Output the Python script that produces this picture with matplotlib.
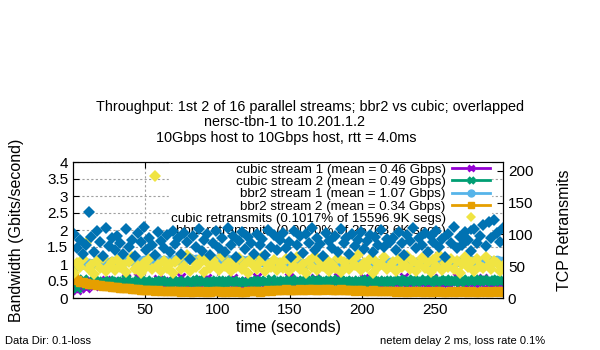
import numpy as np
import matplotlib
matplotlib.use("Agg")
import matplotlib.pyplot as plt
from matplotlib.ticker import FormatStrFormatter

plt.rcParams['font.family'] = ['Liberation Sans', 'DejaVu Sans']

# sample times (seconds), one value every 2 s
t = np.arange(1, 298, 2)

# bandwidth values in Gbit/s x 100
cubic_s1 = [35, 25, 30, 45, 28, 40, 50, 36, 44, 48, 38, 52, 42, 47, 40,
            45, 50, 42, 58, 44, 48, 40, 62, 46, 43, 50, 45, 41, 48, 55, 44, 47, 42, 49, 46,
            44, 50, 63, 46, 42, 48, 45, 52, 40, 47, 44, 60, 46, 43, 49, 45, 50, 42, 47, 44,
            58, 46, 41, 48, 45, 50, 43, 47, 62, 45, 44, 49, 42, 46, 51, 44,
            46, 43, 48, 61, 45, 42, 47, 50, 44, 46, 42, 49, 58, 45, 43, 47, 44, 50, 42, 46,
            63, 45, 48, 43, 46, 41, 49, 45, 47, 60, 44, 46, 42, 48, 45, 50, 43, 46, 44,
            47, 44, 50, 45, 62, 46, 43, 48, 45, 51, 44, 47, 42, 49, 59, 46, 44, 48, 45, 43,
            50, 46, 61, 44, 47, 42, 49, 46, 45, 48, 43, 58, 46, 44, 50, 45, 47, 43, 48]
cubic_s2 = [40, 30, 45, 55, 38, 50, 44, 52, 47, 41, 50, 46, 53, 45, 49,
            51, 44, 48, 55, 46, 50, 43, 52, 48, 45, 54, 47, 50, 44, 49, 53, 46, 51, 45, 50,
            48, 54, 45, 50, 47, 52, 44, 49, 55, 46, 51, 48, 43, 50, 53, 47, 45, 52, 49, 46,
            54, 48, 50, 44, 51, 47, 53, 45, 49, 52, 46, 50, 48, 55, 47, 51,
            49, 53, 46, 50, 55, 48, 52, 45, 51, 54, 47, 50, 56, 49, 46, 53, 51, 48, 55, 47,
            52, 50, 46, 54, 49, 51, 47, 53, 50, 48, 55, 46, 52, 49, 51, 47, 54, 50, 48,
            52, 49, 55, 51, 47, 54, 50, 57, 48, 53, 51, 56, 49, 52, 55, 48, 53, 50, 57, 51,
            49, 54, 52, 48, 56, 50, 53, 51, 55, 49, 52, 57, 50, 54, 51, 53, 56, 50, 52]
bbr2_s1 = [90, 95, 98, 100, 96, 102, 99, 104, 101, 105, 103, 107, 104, 108, 106,
           110, 108, 112, 109, 113, 110, 114, 111, 109, 113, 110, 112, 108, 111, 114, 110, 112, 109, 113, 111,
           114, 111, 116, 112, 115, 118, 113, 116, 112, 117, 114, 119, 115, 112, 116, 113, 115, 111,
           114, 112, 110, 113, 109, 112, 108, 111, 107, 110, 106, 109, 105, 108, 104, 107, 103, 106,
           102, 105, 101, 104, 100, 103, 99, 102, 100, 104, 101, 103, 99, 102, 100, 104, 101, 103,
           100, 105, 102, 104, 101, 106, 103, 105, 102, 104, 101, 103, 100, 104, 102, 105, 101, 103, 104, 102, 105,
           106, 103, 107, 104, 108, 105, 107, 104, 106, 108, 105, 107, 104, 109, 106, 108, 105, 107, 110, 106,
           108, 105, 109, 107, 110, 106, 108, 111, 107, 109, 106, 110, 108, 111, 107, 109, 112, 108, 110]
bbr2_s2 = [60, 52, 48, 46, 44, 42, 41, 40, 38, 37, 36, 35, 34, 33, 32,
           31, 30, 29, 28, 29, 27, 26, 27, 25, 24, 25, 23, 24, 22, 23, 22, 21, 22, 21, 20,
           21, 20, 19, 20, 21, 19, 18, 20, 21, 19, 20, 18, 19, 20, 21, 20, 19, 18, 20, 19,
           21, 20, 19, 18, 19, 20, 21, 22, 20, 19, 21, 22, 23, 22, 24, 23,
           25, 24, 26, 25, 24, 23, 25, 26, 25, 24, 26, 27, 25, 24, 26, 25, 27, 26, 25, 24,
           25, 26, 24, 25, 23, 24, 22, 23, 24, 22, 21, 22, 23, 21, 20, 21, 22, 20, 21,
           20, 19, 21, 20, 19, 18, 20, 19, 21, 20, 18, 19, 20, 19, 18, 20, 21, 19, 18, 19,
           20, 18, 19, 20, 21, 19, 18, 20, 19, 18, 19, 20, 19, 18, 20, 19, 21, 20, 19]

# retransmits per interval (right axis)
cubic_retr = [40, 55, 48, 62, 86, 45, 52, 38, 58, 47, 63, 42, 50, 56, 44,
              60, 48, 53, 41, 57, 64, 46, 51, 39, 55, 49, 61, 45, 192, 52, 43, 58, 47, 54, 40,
              56, 62, 45, 50, 67, 43, 58, 49, 53, 64, 41, 57, 47, 60, 52, 44, 66, 50,
              55, 42, 59, 48, 63, 46, 54, 40, 61, 51, 45, 57, 65, 43, 52, 48, 60, 44,
              55, 47, 62, 42, 58, 50, 64, 45, 53, 39, 59, 48, 66, 44, 56, 51, 61, 43, 54, 47,
              63, 41, 57, 50, 45, 60, 52, 67, 44, 55, 48, 62, 40, 58, 49, 53, 64, 46, 51,
              57, 43, 61, 49, 54, 66, 45, 59, 42, 52, 63, 47, 56, 41, 60, 50, 68, 44, 55, 48,
              62, 46, 58, 40, 53, 65, 49, 57, 43, 61, 51, 47, 64, 52, 45, 59, 55, 42, 50]
bbr2_retr = [100, 78, 92, 70, 84, 136, 96, 72, 105, 88, 66, 110, 82, 94, 75,
             98, 86, 70, 108, 80, 92, 66, 102, 88, 112, 76, 95, 84, 68, 104, 90, 78, 99, 72, 106,
             85, 95, 70, 103, 88, 62, 97, 80, 108, 74, 92, 100, 67, 86, 105, 79, 94, 72,
             110, 83, 98, 65, 90, 104, 77, 96, 87, 70, 101, 84, 93, 68, 107, 81, 99, 75,
             92, 102, 78, 88, 64, 106, 83, 97, 71, 100, 87, 110, 76, 94, 85, 66, 103, 90, 79, 98,
             73, 108, 86, 95, 69, 101, 82, 92, 104, 77, 89, 99, 72, 96, 84, 107, 80, 93, 88,
             95, 76, 104, 86, 68, 99, 90, 110, 78, 94, 83, 102, 72, 97, 88, 106, 80, 93, 65, 100,
             87, 112, 79, 96, 84, 104, 91, 74, 108, 86, 98, 115, 82, 120, 95, 122, 103, 88, 110]

labels = ["cubic stream 1 (mean = 0.46 Gbps)",
          "cubic stream 2 (mean = 0.49 Gbps)",
          "bbr2 stream 1 (mean = 1.07 Gbps)",
          "bbr2 stream 2 (mean = 0.34 Gbps)",
          "cubic retransmits (0.1017% of 15596.9K segs)",
          "bbr2 retransmits (0.0000% of 25708.6K segs)"]

fig = plt.figure(figsize=(6, 3.5), dpi=100)
ax = fig.add_axes([73/600, 1-298/350, 430/600, 136/350])
ax2 = ax.twinx()

h = []
h += ax.plot(t, np.array(cubic_s1)/100, "-x", color="#9400D3", lw=3, ms=6, mew=2, label=labels[0])
h += ax.plot(t, np.array(cubic_s2)/100, "-x", color="#009E73", lw=3, ms=6, mew=2.5, label=labels[1])
h += ax.plot(t, np.array(bbr2_s1)/100, "-o", color="#56B4E9", lw=3, ms=6, label=labels[2])
h += ax.plot(t, np.array(bbr2_s2)/100, "-s", color="#E69F00", lw=3, ms=6, label=labels[3])
h += ax2.plot(t, cubic_retr, "D", color="#F0E442", ms=6, mew=0, label=labels[4])
h += ax2.plot(t, bbr2_retr, "D", color="#0072B2", ms=6.5, mew=0, label=labels[5])

ax.set_xlim(0.3, 297)
ax.set_ylim(0, 4)
ax2.set_ylim(0, 214)
ax.set_xticks([50, 100, 150, 200, 250])
ax.set_yticks(np.arange(0, 4.01, 0.5))
ax2.set_yticks([0, 50, 100, 150, 200])
ax.yaxis.set_major_formatter(FormatStrFormatter('%g'))
ax.tick_params(direction="in", length=4, labelsize=11, top=True, right=False)
ax2.tick_params(direction="in", length=4, labelsize=11)
ax.grid(True, ls=(0, (2, 2)), color="#a0a0a0", lw=0.8)
ax.set_axisbelow(True)

ax.set_xlabel("time (seconds)", fontsize=11.5)
ax.set_ylabel("Bandwidth (Gbits/second)", fontsize=11.5)
ax2.set_ylabel("TCP Retransmits", fontsize=11.5)
ax.xaxis.set_label_coords(0.5, -0.16)
ax.yaxis.set_label_coords(-0.115, 0.5)
ax2.yaxis.set_label_coords(1.125, 0.5)

leg = ax.legend(h, labels, loc="upper right", bbox_to_anchor=(0.972, 1.0), markerfirst=False,
                numpoints=1, fontsize=9.6, frameon=True, framealpha=1, edgecolor="white",
                fancybox=False, borderpad=0.1, labelspacing=0.0, handlelength=2.8,
                handletextpad=0.5, borderaxespad=0)
for lh in leg.legend_handles:
    lh.set_linewidth(2)
    lh.set_markersize(5)

fig.text(310/600, 1-107/350, "Throughput: 1st 2 of 16 parallel streams; bbr2 vs cubic; overlapped",
         ha="center", va="center", fontsize=10.4)
fig.text(285/600, 1-122/350, "nersc-tbn-1 to 10.201.1.2", ha="center", va="center", fontsize=10.4)
fig.text(286/600, 1-138/350, "10Gbps host to 10Gbps host, rtt = 4.0ms", ha="center", va="center", fontsize=10.4)
fig.text(5/600, 1-341/350, "Data Dir: 0.1-loss", ha="left", va="center", fontsize=8)
fig.text(380/600, 1-341/350, "netem delay 2 ms, loss rate 0.1%", ha="left", va="center", fontsize=8)

fig.savefig("out.png", dpi=100)
